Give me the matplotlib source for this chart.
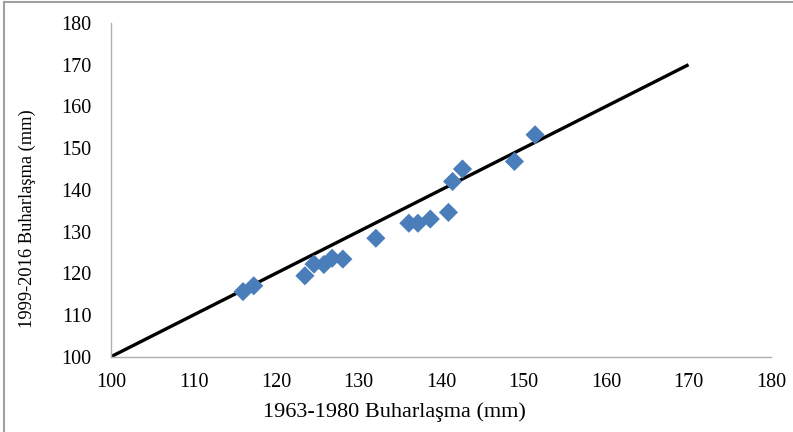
import matplotlib
matplotlib.use("Agg")
import matplotlib.pyplot as plt
from matplotlib.lines import Line2D

x_1963_1980 = [116.0, 117.3, 123.5, 124.6, 125.8, 126.8, 128.1, 132.1, 136.1, 137.2, 138.7, 140.9, 141.4, 142.6, 148.9, 151.4]
y_1999_2016 = [115.6, 117.0, 119.4, 122.2, 122.1, 123.6, 123.4, 128.4, 132.0, 132.0, 133.0, 134.6, 142.0, 145.0, 146.8, 153.2]
line_x = [100, 170]
line_y = [100, 170]
ticks = [100, 110, 120, 130, 140, 150, 160, 170, 180]

plt.rcParams['font.family'] = ['Liberation Serif', 'DejaVu Serif']

fig = plt.figure(figsize=(7.93, 4.32), dpi=100)
ax = fig.add_axes([0.140, 0.1743, 0.8323, 0.7725])
ax.plot(line_x, line_y, color='black', lw=2.4, solid_capstyle='butt', zorder=2)
ax.scatter(x_1963_1980, y_1999_2016, marker='D', s=95, color='#4a7ebb', edgecolors='none', zorder=3)

ax.set_xlim(100, 180)
ax.set_ylim(100, 180)
ax.set_xticks(ticks)
ax.set_yticks(ticks)
ax.tick_params(length=0, labelsize=14.5)
ax.tick_params(axis='y', pad=14)
ax.tick_params(axis='x', pad=12)
for s in ['top', 'right']:
    ax.spines[s].set_visible(False)
for s in ['left', 'bottom']:
    ax.spines[s].set_color('#b0b0b0')
    ax.spines[s].set_linewidth(1)

fig.text(0.498, 0.046, '1963-1980 Buharlaşma (mm)', fontsize=16, ha='center', va='center')
fig.text(0.034, 0.493, '1999-2016 Buharlaşma (mm)', fontsize=13.3, ha='center', va='center', rotation=90)

fig.add_artist(Line2D([0.005, 0.005], [0, 0.995], transform=fig.transFigure, color='#a0a0a0', lw=1.5))
fig.add_artist(Line2D([0.005, 1.0], [0.995, 0.995], transform=fig.transFigure, color='#a0a0a0', lw=1.5))

fig.savefig('out.png', dpi=100)
